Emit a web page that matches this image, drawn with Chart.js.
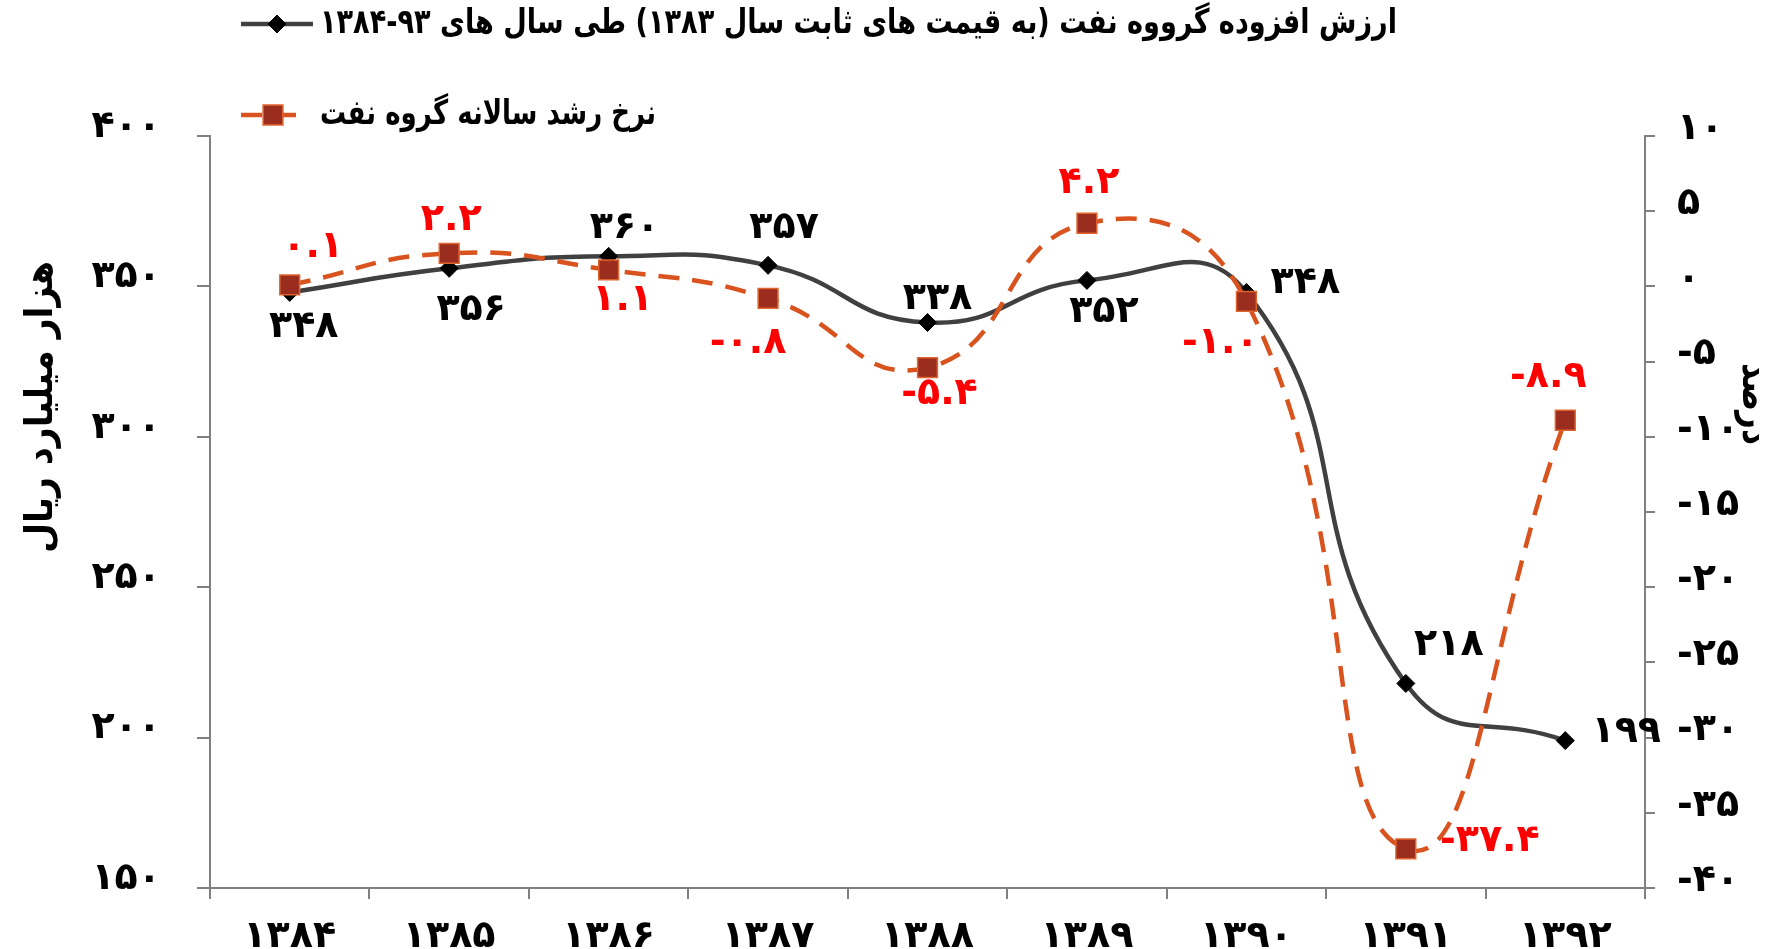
<!DOCTYPE html>
<html lang="fa">
<head>
<meta charset="utf-8">
<title>ارزش افزوده گروه نفت</title>
<script src="https://cdn.jsdelivr.net/npm/chart.js@4.4.1/dist/chart.umd.min.js"></script>
<style>
  html, body { margin: 0; padding: 0; background: #fff; }
</style>
</head>
<body>
<canvas id="grafico" width="1774" height="949"></canvas>
<script>
// سال ها (محور افقی)
var years = ['۱۳۸۴', '۱۳۸۵', '۱۳۸۶', '۱۳۸۷', '۱۳۸۸', '۱۳۸۹', '۱۳۹۰', '۱۳۹۱', '۱۳۹۲'];

// ارزش افزوده گروه نفت - هزار میلیارد ریال (محور چپ)
var valueAdded = [348, 356, 360, 357, 338, 352, 348, 218, 199];

// نرخ رشد سالانه - درصد (محور راست)
var growthRate = [0.1, 2.2, 1.1, -0.8, -5.4, 4.2, -1.0, -37.4, -8.9];

// بازه محورها: [کمینه، بیشینه، گام]
var leftAxis = [150, 400, 50];
var rightAxis = [-40, 10, 5];

var seriesNames = [
    'ارزش افزوده گرووه نفت (به قیمت های ثابت سال ۱۳۸۳) طی سال های ۹۳-۱۳۸۴',
    'نرخ رشد سالانه گروه نفت'
];
var axisTitles = ['هزار میلیارد ریال', 'درصد'];

// جای برچسب ها نسبت به نقطه (پیکسل)
var valueLabelPos = [[14, 35], [22, 42], [16, -28], [16, -37], [10, -23], [17, 32], [59, -9], [43, -38], [61, -8]];
var growthLabelPos = [[23, -38], [2, -33], [14, 30], [-20, 45], [12, 27], [2, -40], [-26, 42], [84, -8], [-17, -43]];

var FONT = '"DejaVu Sans", sans-serif';
var GRAY = '#808080';
var DIGIT_SPACING = '5px';

// ارقام فارسی
function fa(n) {
    return String(n).replace(/\d/g, function (d) { return '۰۱۲۳۴۵۶۷۸۹'[d]; });
}

var tickFont = { family: FONT, size: 38, weight: 'bold' };

// برچسب مقادیر، راهنما و عنوان محورها
var decorPlugin = {
    id: 'decor',
    beforeDraw: function (chart) {
        chart.ctx.letterSpacing = DIGIT_SPACING;
    },
    afterDatasetsDraw: function (chart) {
        var ctx = chart.ctx;
        ctx.save();
        ctx.font = 'bold 38px ' + FONT;
        ctx.letterSpacing = DIGIT_SPACING;
        ctx.textAlign = 'center';
        ctx.textBaseline = 'middle';
        var sets = [
            { idx: 0, pos: valueLabelPos, color: '#000', fmt: function (v) { return fa(v); } },
            { idx: 1, pos: growthLabelPos, color: '#FF0000', fmt: function (v) { return fa(v.toFixed(1)); } }
        ];
        sets.forEach(function (s) {
            var meta = chart.getDatasetMeta(s.idx);
            var vals = chart.data.datasets[s.idx].data;
            ctx.fillStyle = s.color;
            meta.data.forEach(function (pt, i) {
                ctx.fillText(s.fmt(vals[i]), pt.x + s.pos[i][0], pt.y + s.pos[i][1]);
            });
        });
        ctx.restore();
    },
    afterDraw: function (chart) {
        var ctx = chart.ctx;
        ctx.save();
        ctx.letterSpacing = '0px';
        ctx.font = 'bold 34px ' + FONT;
        ctx.fillStyle = '#000';
        ctx.textBaseline = 'middle';

        // راهنما
        var rows = [
            { y: 24, x1: 241, x2: 313, w: 1077 },
            { y: 115, x1: 241, x2: 305, w: 336 }
        ];
        rows.forEach(function (r, i) {
            var ds = chart.data.datasets[i];
            var cx = (r.x1 + r.x2) / 2;
            ctx.save();
            ctx.strokeStyle = ds.borderColor;
            ctx.lineWidth = ds.borderWidth;
            ctx.setLineDash(ds.borderDash || []);
            ctx.beginPath();
            ctx.moveTo(r.x1, r.y);
            ctx.lineTo(r.x2, r.y);
            ctx.stroke();
            ctx.restore();

            ctx.save();
            ctx.fillStyle = ds.pointBackgroundColor;
            ctx.strokeStyle = ds.pointBorderColor;
            ctx.lineWidth = ds.pointBorderWidth;
            Chart.helpers.drawPoint(ctx, {
                pointStyle: ds.pointStyle,
                radius: ds.pointRadius,
                borderWidth: ds.pointBorderWidth
            }, cx, r.y);
            ctx.restore();

            ctx.save();
            ctx.direction = 'rtl';
            ctx.textAlign = 'left';
            ctx.fillText(ds.label, 320, r.y, r.w);
            ctx.restore();
        });

        // عنوان محورها
        ctx.font = 'bold 38px ' + FONT;
        ctx.textAlign = 'center';
        ctx.direction = 'rtl';

        ctx.save();
        ctx.translate(42, 407);
        ctx.rotate(-Math.PI / 2);
        ctx.fillText(axisTitles[0], 0, 0, 292);
        ctx.restore();

        ctx.save();
        ctx.translate(1753, 404);
        ctx.rotate(Math.PI / 2);
        ctx.fillText(axisTitles[1], 0, 0, 82);
        ctx.restore();

        ctx.restore();
    }
};

var data = {
    labels: years,
    datasets: [{
        label: seriesNames[0],
        data: valueAdded,
        yAxisID: 'y',
        order: 1,
        borderColor: '#404040',
        borderWidth: 4.5,
        tension: 0.5,
        pointStyle: 'rectRot',
        pointRadius: 9,
        pointBackgroundColor: '#000000',
        pointBorderColor: '#000000',
        pointBorderWidth: 1
    }, {
        label: seriesNames[1],
        data: growthRate,
        yAxisID: 'y1',
        order: 0,
        borderColor: '#D9531E',
        borderWidth: 4.5,
        borderDash: [21, 13],
        tension: 0.5,
        pointStyle: 'rect',
        pointRadius: 14,
        pointBackgroundColor: '#9B2D1F',
        pointBorderColor: '#E0642E',
        pointBorderWidth: 1.5
    }]
};

var options = {
    responsive: false,
    animation: false,
    layout: { padding: { top: 136, left: 0, right: 0, bottom: 0 } },
    plugins: {
        legend: { display: false },
        tooltip: { enabled: false }
    },
    scales: {
        x: {
            offset: true,
            grid: { offset: true, drawOnChartArea: false, tickLength: 11, color: GRAY, lineWidth: 2 },
            border: { color: GRAY, width: 2 },
            ticks: { font: tickFont, color: '#000', padding: 15, maxRotation: 0, autoSkip: false },
            afterFit: function (s) { s.height = 61; }
        },
        y: {
            position: 'left',
            min: leftAxis[0],
            max: leftAxis[1],
            grid: { drawOnChartArea: false, tickLength: 13, color: GRAY, lineWidth: 2 },
            border: { color: GRAY, width: 2 },
            ticks: {
                stepSize: leftAxis[2],
                font: tickFont, color: '#000', padding: 36, labelOffset: -9,
                callback: function (v) { return fa(v); }
            },
            afterFit: function (s) { s.width = 210; }
        },
        y1: {
            position: 'right',
            min: rightAxis[0],
            max: rightAxis[1],
            grid: { drawOnChartArea: false, tickLength: 10, color: GRAY, lineWidth: 2 },
            border: { color: GRAY, width: 2 },
            ticks: {
                stepSize: rightAxis[2],
                font: tickFont, color: '#000', padding: 22, labelOffset: -7,
                callback: function (v) { return fa(v); }
            },
            afterFit: function (s) { s.width = 129; }
        }
    }
};

var ctx = document.querySelector('#grafico');
var lineChart = new Chart(ctx, {
    type: 'line',
    data: data,
    options: options,
    plugins: [decorPlugin]
});
</script>
</body>
</html>
